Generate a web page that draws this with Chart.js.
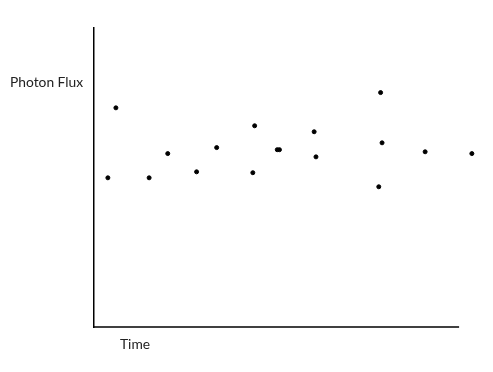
<!DOCTYPE html>
<html><head><meta charset="utf-8">
<script src="https://cdn.jsdelivr.net/npm/chart.js@4/dist/chart.umd.min.js"></script>
<style>html,body{margin:0;padding:0;background:#fff;}#wrap{width:493px;height:372px;position:relative;}</style>
</head><body><div id="wrap"><canvas id="c" width="493" height="372"></canvas></div>
<script>
const timeValues = [3.8, 6.0, 15.1, 20.2, 28.1, 33.6, 44.0, 43.5, 50.2, 50.8, 60.3, 60.8, 78.5, 78.9, 78.0, 90.7, 103.5];
const fluxValues = [49.9, 73.3, 49.9, 58.0, 51.9, 60.0, 67.3, 51.6, 59.3, 59.3, 65.3, 56.9, 78.4, 61.6, 46.9, 58.6, 58.0];
const yLabel = "Photon Flux";
const xLabel = "Time";
const xAxisEnd = 100;

const points = timeValues.map((t, i) => ({x: t, y: fluxValues[i]}));

const labelPlugin = {
  id: 'labels',
  afterDraw(chart) {
    const ctx = chart.ctx;
    const xs = chart.scales.x, ys = chart.scales.y;
    ctx.save();
    ctx.strokeStyle = '#000';
    ctx.lineWidth = 1.5;
    ctx.beginPath();
    const yb = ys.getPixelForValue(0);
    ctx.moveTo(xs.getPixelForValue(0) - 1, yb);
    ctx.lineTo(xs.getPixelForValue(xAxisEnd), yb);
    ctx.stroke();
    ctx.fillStyle = '#222';
    ctx.font = '13.8px Lato, "Open Sans", sans-serif';
    ctx.textBaseline = 'middle';
    ctx.textAlign = 'left';
    ctx.fillText(yLabel, 10, 83);
    ctx.fillText(xLabel, 120, 345);
    ctx.restore();
  }
};

new Chart(document.getElementById('c'), {
  type: 'scatter',
  data: { datasets: [{
    data: points,
    backgroundColor: '#000',
    borderColor: '#000',
    pointRadius: 2,
    pointHoverRadius: 2,
    clip: false
  }]},
  options: {
    responsive: false,
    animation: false,
    devicePixelRatio: 1,
    layout: { padding: { left: 94, right: 12, top: 28, bottom: 45 } },
    plugins: { legend: { display: false }, tooltip: { enabled: false } },
    scales: {
      x: {
        type: 'linear', min: 0, max: 106,
        ticks: { display: false },
        grid: { display: false, drawTicks: false },
        border: { display: false }
      },
      y: {
        type: 'linear', min: 0, max: 100,
        ticks: { display: false },
        grid: { display: false, drawTicks: false },
        border: { display: true, color: '#000', width: 1.5 }
      }
    }
  },
  plugins: [labelPlugin]
});
</script></body></html>
